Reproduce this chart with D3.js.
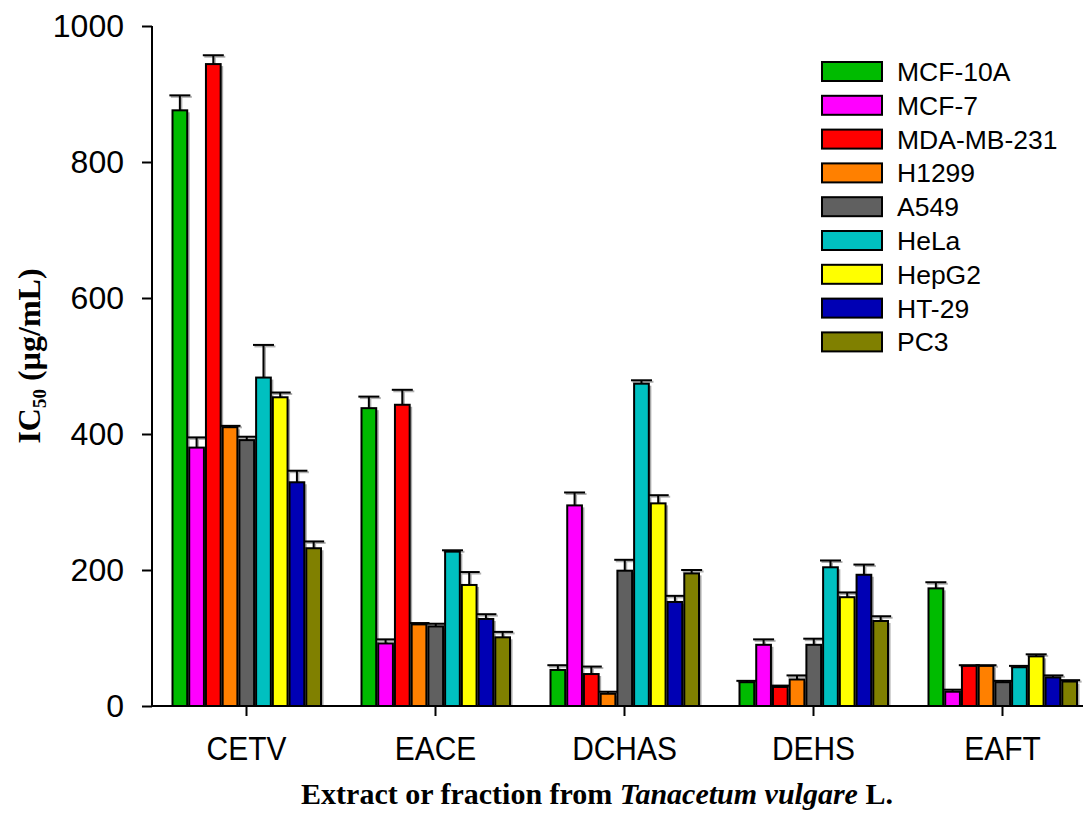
<!DOCTYPE html>
<html>
<head>
<meta charset="utf-8">
<script src="https://cdn.jsdelivr.net/npm/d3@7"></script>
<style>
  html, body { margin: 0; padding: 0; background: #ffffff; }
  svg { display: block; }
</style>
</head>
<body>
<svg id="chart" width="1083" height="814"></svg>
<script>
// Extracts / fractions on the x axis
const categories = ["CETV", "EACE", "DCHAS", "DEHS", "EAFT"];

// Cell lines (one bar per line in each group)
const cellLines = ["MCF-10A", "MCF-7", "MDA-MB-231", "H1299", "A549", "HeLa", "HepG2", "HT-29", "PC3"];
const lineColors = ["#00bb00", "#ff00ff", "#ff0000", "#ff8000", "#606060", "#00c0c0", "#ffff00", "#0000b4", "#808000"];

// IC50 means (µg/mL), one array per extract, ordered as cellLines
const icCETV  = [876, 380, 944, 410, 391, 483, 454, 329, 232];
const icEACE  = [438,  92, 443, 120, 117, 227, 178, 128, 101];
const icDCHAS = [ 53, 295,  47,  18, 199, 474, 298, 153, 195];
const icDEHS  = [ 35,  90,  28,  39,  90, 204, 160, 193, 125];
const icEAFT  = [173,  21,  59,  59,  35,  57,  73,  42,  36];

// Standard deviations (upper error bars)
const sdCETV  = [22, 15, 13,  2,  5, 48,  7, 17, 10];
const sdEACE  = [17,  6, 22,  2,  4,  2, 19,  7,  8];
const sdDCHAS = [ 7, 19, 11,  3, 16,  5, 12,  9,  5];
const sdDEHS  = [ 2,  8,  2,  6,  9, 10,  7, 15,  7];
const sdEAFT  = [ 9,  3,  1,  1,  2,  2,  3,  3,  2];

const yTicks = [0, 200, 400, 600, 800, 1000];

const means = [icCETV, icEACE, icDCHAS, icDEHS, icEAFT];
const sds   = [sdCETV, sdEACE, sdDCHAS, sdDEHS, sdEAFT];

const rows = [];
categories.forEach((c, ci) => {
  cellLines.forEach((s, si) => {
    rows.push({ cat: c, line: s, color: lineColors[si], v: means[ci][si], sd: sds[ci][si] });
  });
});

const svg = d3.select("#chart");

const x0 = d3.scaleBand().domain(categories).range([152, 1097]).padding(0);
const x1 = d3.scaleBand().domain(cellLines).range([20.5, 169]).paddingInner(0.12).paddingOuter(0);
const y = d3.scaleLinear().domain([0, 1000]).range([706, 26]);

const plot = svg.append("g");

// bar shadows
plot.selectAll("rect.shadow")
  .data(rows)
  .join("rect")
  .attr("class", "shadow")
  .attr("x", d => x0(d.cat) + x1(d.line) + 2.5)
  .attr("y", d => y(d.v) + 2)
  .attr("width", x1.bandwidth())
  .attr("height", d => y(0) - y(d.v) - 2)
  .attr("fill", "#a8a8a8");

// error bars (upper only), with a light shadow
const errShadow = plot.append("g").attr("stroke", "#b0b0b0").attr("stroke-width", 2);
const err = plot.append("g").attr("stroke", "#000").attr("stroke-width", 2);
rows.forEach(d => {
  const cx = x0(d.cat) + x1(d.line) + x1.bandwidth() / 2;
  const yt = y(d.v + d.sd);
  [[errShadow, 1.5], [err, 0]].forEach(([g, o]) => {
    g.append("line").attr("x1", cx + o).attr("x2", cx + o).attr("y1", y(d.v) + o).attr("y2", yt + o);
    g.append("line").attr("x1", cx - 10.5 + o).attr("x2", cx + 10.5 + o).attr("y1", yt + o).attr("y2", yt + o);
  });
});

// bars
plot.selectAll("rect.bar")
  .data(rows)
  .join("rect")
  .attr("class", "bar")
  .attr("x", d => x0(d.cat) + x1(d.line))
  .attr("y", d => y(d.v))
  .attr("width", x1.bandwidth())
  .attr("height", d => y(0) - y(d.v))
  .attr("fill", d => d.color)
  .attr("stroke", "#000")
  .attr("stroke-width", 2);

// y axis
const yAxis = svg.append("g")
  .attr("transform", "translate(152,0)")
  .call(d3.axisLeft(y).tickValues(yTicks).tickSize(10).tickPadding(18).tickFormat(d3.format("d")));
yAxis.select(".domain").attr("stroke", "#000").attr("stroke-width", 2).attr("d", "M0,26V706");
yAxis.selectAll(".tick line").attr("stroke", "#000").attr("stroke-width", 2);
yAxis.selectAll(".tick text")
  .attr("font-family", "Arial, 'Liberation Sans', sans-serif")
  .attr("font-size", 32)
  .attr("fill", "#000");

// x axis
const xAxis = svg.append("g")
  .attr("transform", "translate(0,706)")
  .call(d3.axisBottom(x0).tickSize(10).tickPadding(20));
xAxis.select(".domain").attr("stroke", "#000").attr("stroke-width", 2).attr("d", "M152,0H1097");
xAxis.selectAll(".tick line").attr("stroke", "#000").attr("stroke-width", 2);
xAxis.selectAll(".tick text")
  .attr("font-family", "Arial, 'Liberation Sans', sans-serif")
  .attr("font-size", 34)
  .attr("fill", "#000")
  .attr("dy", "0.71em")
  .attr("transform", "scale(0.88,1)");

// y axis title: IC50 (µg/mL)
const yTitle = svg.append("text")
  .attr("transform", "translate(40,356) rotate(-90)")
  .attr("text-anchor", "middle")
  .attr("font-family", "'Times New Roman', 'Liberation Serif', serif")
  .attr("font-weight", "bold")
  .attr("font-size", 32)
  .attr("fill", "#000");
yTitle.append("tspan").text("IC");
yTitle.append("tspan").attr("font-size", 19).attr("dy", 6).text("50");
yTitle.append("tspan").attr("dy", -6).text(" (\u00b5g/mL)");

// x axis title
const xTitle = svg.append("text")
  .attr("x", 597)
  .attr("y", 804)
  .attr("text-anchor", "middle")
  .attr("font-family", "'Times New Roman', 'Liberation Serif', serif")
  .attr("font-weight", "bold")
  .attr("font-size", 30)
  .attr("fill", "#000");
xTitle.append("tspan").text("Extract or fraction from ");
xTitle.append("tspan").attr("font-style", "italic").text("Tanacetum vulgare");
xTitle.append("tspan").text(" L.");

// legend
const legend = svg.append("g");
cellLines.forEach((s, i) => {
  const cy = 71.5 + i * 33.8;
  legend.append("rect")
    .attr("x", 822).attr("y", cy - 9.5)
    .attr("width", 60).attr("height", 19)
    .attr("fill", lineColors[i])
    .attr("stroke", "#000").attr("stroke-width", 2);
  legend.append("text")
    .attr("x", 897).attr("y", cy)
    .attr("dy", "0.36em")
    .attr("font-family", "Arial, 'Liberation Sans', sans-serif")
    .attr("font-size", 26.5)
    .attr("fill", "#000")
    .text(s);
});
</script>
</body>
</html>
